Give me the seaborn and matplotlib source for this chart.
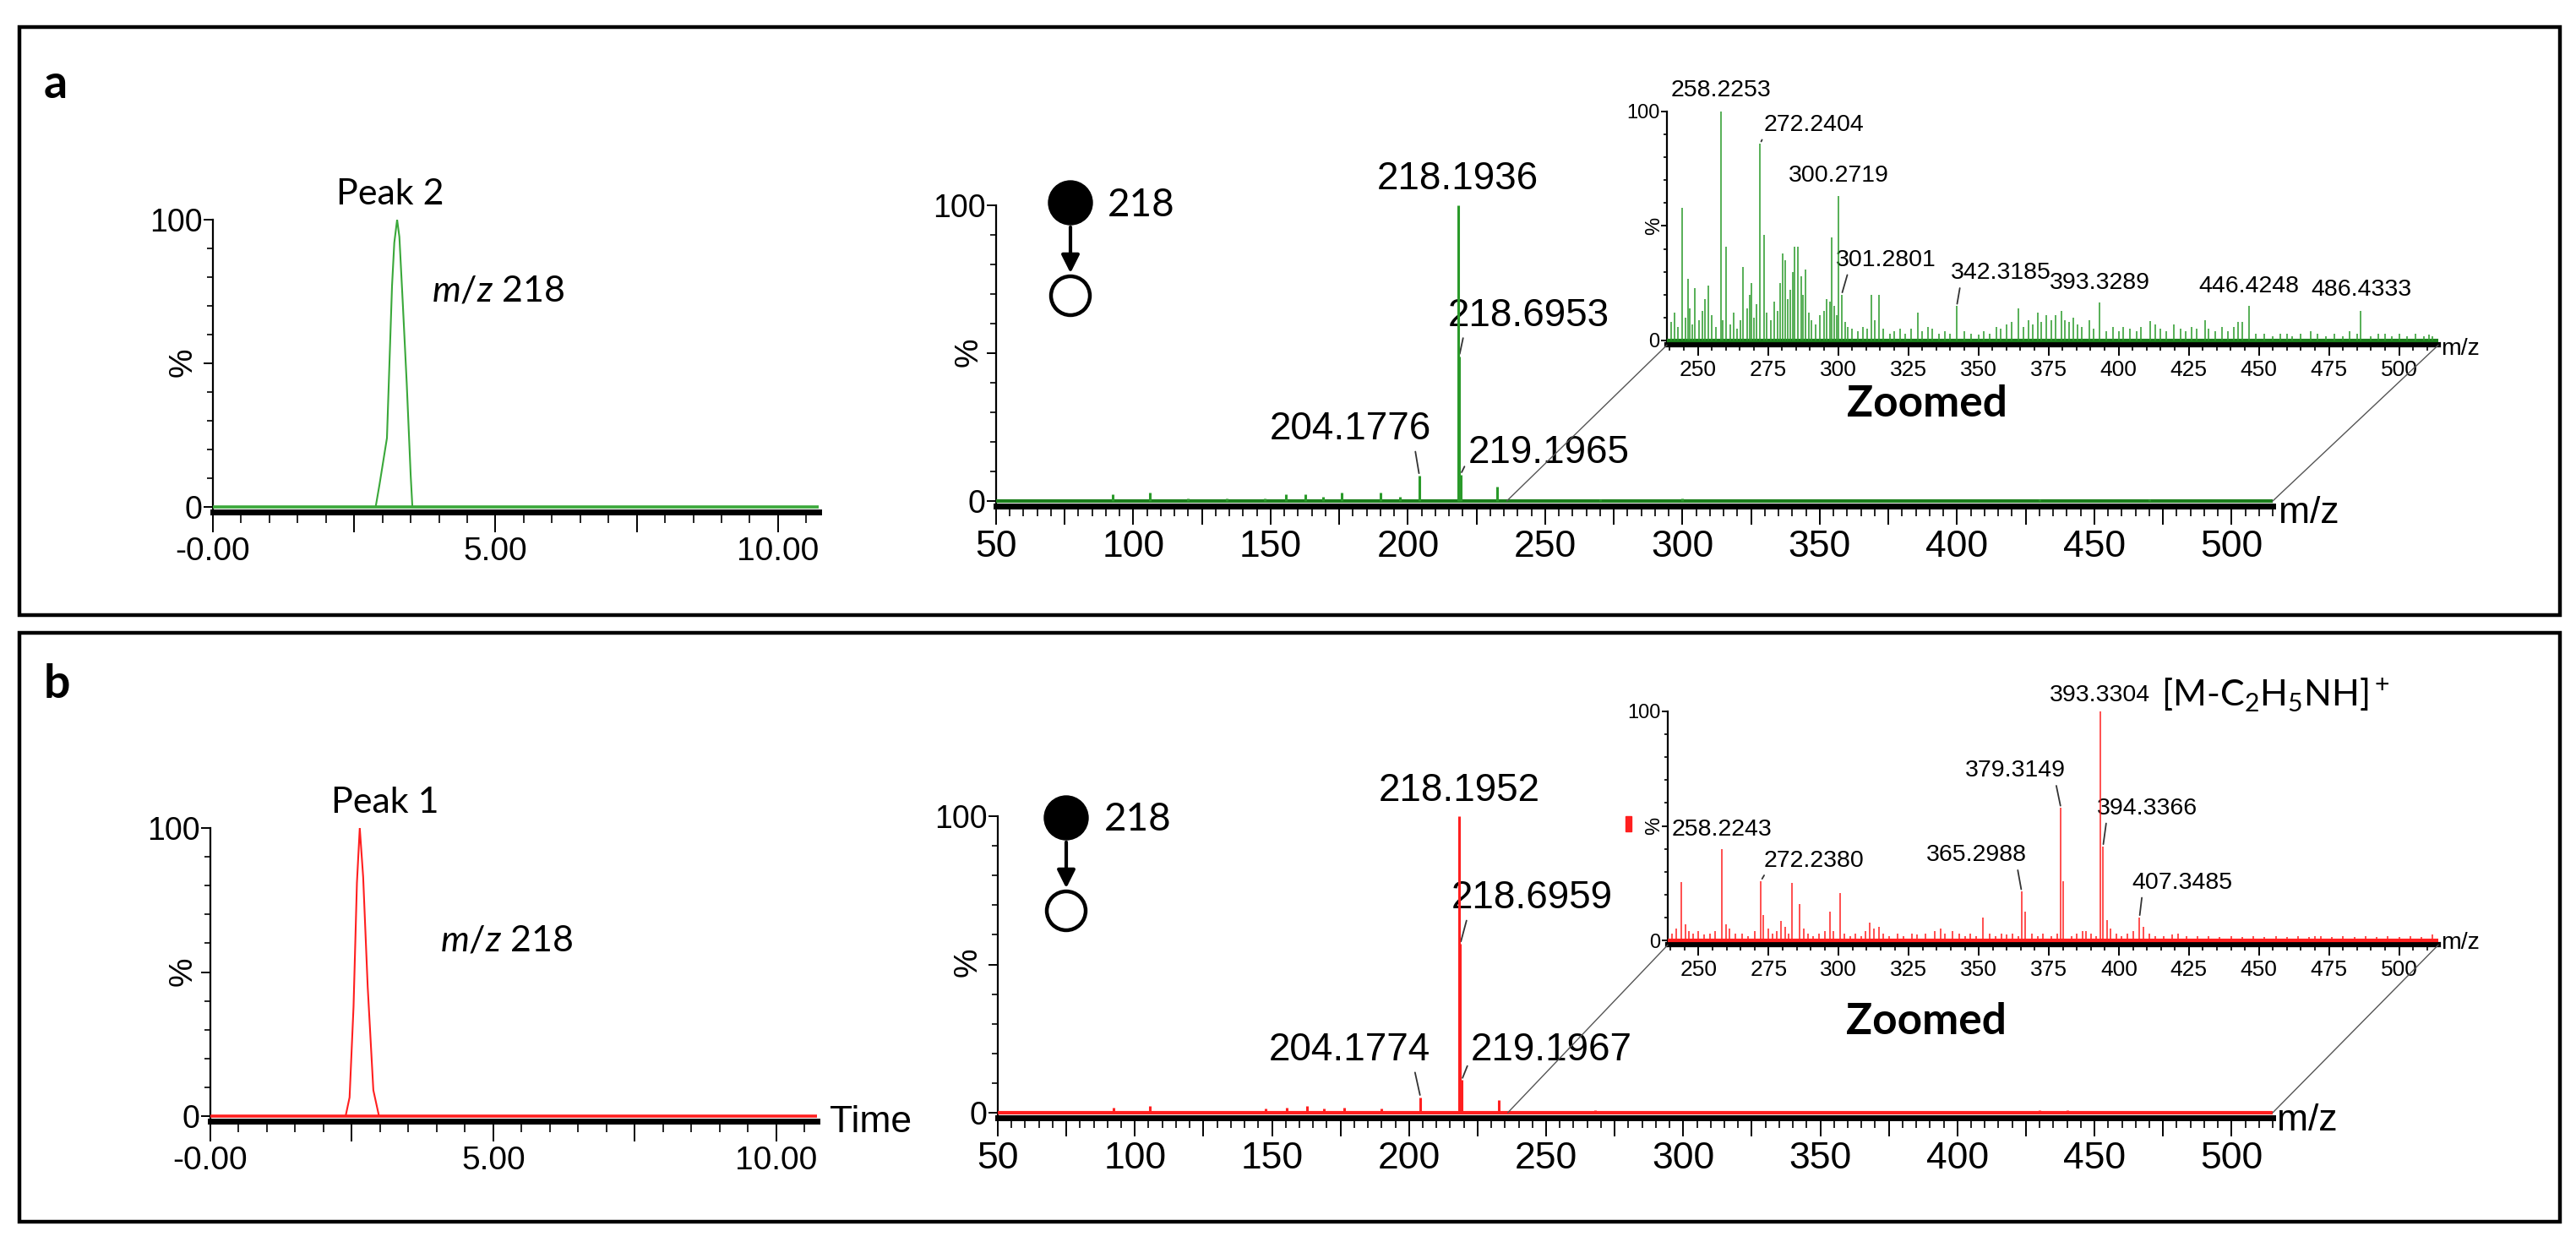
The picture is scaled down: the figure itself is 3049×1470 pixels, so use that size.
import numpy as np
import pandas as pd
import matplotlib
matplotlib.use("Agg")
import matplotlib.pyplot as plt
import seaborn as sns
from matplotlib.patches import Rectangle, Circle, ConnectionPatch, FancyArrowPatch
from matplotlib.ticker import FixedLocator, MultipleLocator

# ---------------- data ----------------
# extracted ion chromatograms (time in min, relative intensity %)
time_a = [0, 2.88, 2.95, 3.08, 3.17, 3.21, 3.26, 3.30, 3.36, 3.43, 3.50, 3.53, 10.72]
int_a = [0, 0, 8, 24, 77, 92, 100, 94, 71, 43, 11, 0, 0]
time_b = [0, 2.39, 2.46, 2.53, 2.59, 2.64, 2.70, 2.78, 2.88, 2.98, 10.72]
int_b = [0, 0, 6.5, 38, 81, 100, 83, 45, 9, 0, 0]

# full MS/MS spectra
ms_a_mz = [92.4, 106.0, 120.0, 134.0, 148.0, 155.6, 162.5, 169.0, 176.0, 190.0, 197.0,
           204.1776, 218.1936, 218.6953, 219.1965, 232.5, 270.0, 300.0, 430.0, 470.0]
ms_a_int = [2.4, 3.0, 1.0, 1.0, 1.0, 2.4, 2.4, 1.4, 3.0, 3.0, 1.4,
            8.6, 100, 49, 9, 5.0, 0.6, 0.8, 0.6, 0.6]
ms_b_mz = [92.2, 105.5, 147.7, 155.4, 162.7, 169.0, 176.4, 190.0, 204.1774,
           218.1952, 218.6959, 219.1967, 232.8, 268.0, 300.0, 430.0, 440.0, 470.0]
ms_b_int = [1.6, 2.4, 1.3, 1.6, 2.4, 1.3, 1.6, 1.3, 5.2,
            100, 57, 11, 4.4, 0.8, 0.6, 0.8, 0.8, 0.6]
ms_a_labels = [218.1936, 218.6953, 204.1776, 219.1965]
ms_b_labels = [218.1952, 218.6959, 204.1774, 219.1967]

# zoomed spectra (m/z 239-514)
ins_a_mz = [244.5, 246.4, 249.0, 253.8, 258.2253, 260.1, 266.0, 269.2, 272.2404, 273.5,
            280.2, 281.3, 284.5, 285.7, 288.3, 297.2, 297.6, 300.2719, 301.2801, 312.0,
            314.5, 328.4, 332.0, 342.3185, 364.2, 371.1, 374.3, 379.6, 383.8, 389.7,
            393.3289, 401.8, 411.3, 419.8, 430.8, 444.0, 446.4248, 457.8, 468.4, 482.5,
            486.4333, 492.7, 500.0, 510.7]
ins_a_int = [58, 27, 23, 24, 100, 41, 32, 25, 86, 46,
             38, 35, 41, 41, 31, 17, 45, 63, 20, 20,
             20, 12, 6, 15, 14, 12, 11, 13, 10, 9,
             16.5, 6, 8.5, 7, 9, 8, 15, 3, 4, 4,
             13, 3, 3, 2.5]
noise_a_mz = [240.5, 241.8, 243.0, 245.5, 247.0, 248.0, 250.5, 251.7, 252.6, 255.0,
              256.5, 259.0, 261.5, 262.8, 264.0, 265.2, 267.5, 268.5, 270.0, 271.0,
              274.5, 276.0, 277.2, 278.5, 279.4, 282.0, 283.0, 284.0, 286.8, 287.5,
              289.5, 290.5, 292.0, 293.5, 295.0, 296.0, 298.5, 299.5, 302.5, 303.5,
              305.0, 307.0, 309.0, 310.5, 313.0, 316.0, 318.5, 320.0, 322.0, 324.0,
              326.0, 330.0, 333.5, 336.0, 338.0, 340.0, 345.0, 347.5, 350.0, 352.0,
              354.0, 356.5, 358.0, 360.0, 362.0, 366.0, 368.0, 369.5, 372.5, 376.0,
              377.5, 381.0, 382.5, 385.5, 387.0, 391.0, 395.5, 398.0, 400.0, 404.0,
              406.5, 408.0, 413.0, 415.0, 417.0, 422.0, 424.0, 426.0, 428.0, 432.0,
              434.5, 437.0, 439.0, 441.0, 442.5, 449.0, 452.0, 455.0, 460.0, 462.0,
              465.0, 471.0, 474.0, 477.0, 480.0, 485.0, 490.0, 495.0, 497.5, 503.0,
              506.0, 509.0, 512.0]
noise_a_int = [8, 12, 6, 10, 14, 7, 9, 13, 18, 11,
               6, 9, 7, 12, 5, 9, 14, 20, 10, 16,
               12, 9, 17, 13, 25, 18, 22, 30, 28, 20,
               12, 9, 7, 11, 13, 18, 15, 11, 8, 6,
               5, 4, 6, 5, 9, 5, 3, 4, 5, 3,
               5, 4, 5, 3, 4, 3, 4, 3, 2.5, 4,
               3, 6, 5, 7, 8, 6, 9, 7, 8, 9,
               11, 9, 8, 7, 6, 5, 4, 6, 4, 5,
               4, 6, 7, 5, 4, 5, 4, 6, 5, 5,
               4, 6, 4, 6, 8, 3, 3, 2, 3, 2,
               3, 3, 2, 3, 2, 3, 2, 3, 2, 2,
               3, 2, 2]
ins_a_labels = [258.2253, 272.2404, 300.2719, 301.2801, 342.3185, 393.3289, 446.4248, 486.4333]

ins_b_mz = [243.9, 245.3, 258.2243, 259.7, 272.2380, 273.2, 279.5, 283.3, 286.0, 297.0,
            300.4, 311.1, 314.3, 334.4, 351.4, 365.2988, 366.6, 379.3149, 380.1, 388.2,
            393.3304, 394.3366, 395.7, 407.3485, 408.8, 421.0, 470.0, 512.0]
ins_b_int = [25.6, 7, 39.7, 7, 26, 11, 8.4, 25, 16, 12.7,
             20.7, 7.7, 6, 4, 10, 21.3, 12.7, 57.8, 26, 4,
             100, 41, 9, 10, 6, 3, 2, 2.5]
noise_b_mz = [240.5, 242.0, 246.5, 248.0, 250.0, 252.0, 254.0, 256.0, 261.0, 263.0,
              265.5, 267.5, 270.0, 275.0, 276.5, 278.0, 281.0, 282.0, 287.5, 289.0,
              291.0, 293.0, 295.0, 298.0, 302.0, 304.0, 306.0, 308.0, 309.5, 312.5,
              316.0, 318.0, 321.0, 323.0, 326.0, 328.0, 331.0, 336.5, 338.0, 340.5,
              343.0, 345.0, 347.0, 349.0, 354.0, 356.0, 358.0, 360.0, 362.0, 364.0,
              369.0, 371.0, 373.0, 376.0, 378.0, 383.0, 385.0, 387.0, 390.0, 392.0,
              397.0, 399.0, 401.0, 403.0, 405.0, 411.0, 413.0, 416.0, 419.0, 424.0,
              428.0, 432.0, 436.0, 440.0, 444.0, 448.0, 452.0, 456.0, 460.0, 464.0,
              468.0, 472.0, 476.0, 480.0, 484.0, 488.0, 492.0, 496.0, 500.0, 504.0,
              508.0]
noise_b_int = [3, 5, 4, 3, 4, 2.5, 3, 4, 5, 3,
               3, 2, 4, 5, 3, 4, 6, 3, 5, 3,
               2, 3, 4, 4, 3, 2, 3, 2, 4, 5,
               3, 2, 3, 2, 3, 2.5, 3, 5, 3, 4,
               3, 2, 3, 2, 3, 2, 3, 2.5, 3, 2,
               3, 2, 3, 2, 3, 2, 3, 4, 3, 2,
               5, 3, 2, 3, 4, 3, 2, 2, 2.5, 2,
               2, 2, 1.5, 2, 1.5, 2, 1.5, 2, 1.5, 2,
               1.5, 2, 1.5, 2, 1.5, 2, 1.5, 2, 1.5, 2,
               1.5]
ins_b_labels = [393.3304, 379.3149, 394.3366, 258.2243, 272.2380, 365.2988, 407.3485]

# ---------------- layout (pixels of the 3049x1470 picture) ----------------
W, H = 3049, 1470
GREEN_LINE = '#3aa83a'
GREEN = '#2a9a2a'
GREEN_BASE = '#1b7d1b'
RED = '#ff1f1f'
NARROW = ['Liberation Sans', 'DejaVu Sans']
HUMAN = ['Lato', 'DejaVu Sans']

sns.set_theme(style='ticks')
plt.rcParams['font.family'] = NARROW
plt.rcParams['mathtext.fontset'] = 'custom'
plt.rcParams['mathtext.rm'] = 'Lato'
plt.rcParams['mathtext.it'] = 'Lato:italic'
plt.rcParams['text.color'] = 'black'
plt.rcParams['xtick.color'] = 'black'
plt.rcParams['ytick.color'] = 'black'


def rect(x0, x1, y0px, y100px, ymin):
    bottom = y0px + (-ymin) * (y0px - y100px) / 100.0
    return [x0 / W, 1 - bottom / H, (x1 - x0) / W, (bottom - y100px) / H]


def style_axes(ax, xlim, ymin, xmajor, xlabels, xminor, xsize, ysize,
               xlen, ylen, bottom_lw):
    ax.set_xlim(xlim)
    ax.set_ylim(ymin, 100)
    ax.set_facecolor('none')
    for s in ['top', 'right']:
        ax.spines[s].set_visible(False)
    ax.spines['left'].set_linewidth(1.6)
    ax.spines['left'].set_color('black')
    ax.spines['bottom'].set_linewidth(bottom_lw)
    ax.spines['bottom'].set_color('black')
    ax.xaxis.set_major_locator(FixedLocator(xmajor))
    ax.set_xticklabels(xlabels)
    ax.xaxis.set_minor_locator(MultipleLocator(xminor))
    ax.yaxis.set_major_locator(FixedLocator([0, 50, 100]))
    ax.set_yticklabels(['0', '', '100'])
    ax.yaxis.set_minor_locator(MultipleLocator(10))
    ax.tick_params(axis='x', which='major', length=xlen, width=1.4,
                   labelsize=xsize, pad=4, direction='out')
    ax.tick_params(axis='x', which='minor', length=xlen * 0.55, width=1.2, direction='out')
    ax.tick_params(axis='y', which='major', length=ylen, width=1.4,
                   labelsize=ysize, pad=1, direction='out')
    ax.tick_params(axis='y', which='minor', length=ylen * 0.6, width=1.2, direction='out')
    ax.set_xlabel('')
    ax.set_ylabel('')
    ax.grid(False)


def peak_label(ax, mz, h, text, dx, dy, size, lead=None, ha='center'):
    kw = dict(xy=(mz, h), xytext=(dx, dy), textcoords='offset pixels',
              ha=ha, va='center', fontsize=size, family=NARROW)
    if lead is not None:
        kw['arrowprops'] = dict(arrowstyle='-', color='#333333', lw=1.3,
                                relpos=lead, shrinkA=1, shrinkB=2)
    ax.annotate(text, **kw)


fig = plt.figure(figsize=(W / 100, H / 100), dpi=100)

# overlay in pixel coordinates for frames and free text
ov = fig.add_axes([0, 0, 1, 1])
ov.set_xlim(0, W)
ov.set_ylim(H, 0)
ov.axis('off')
for (x0, y0, x1, y1) in [(23, 32, 3030, 728), (23, 749, 3030, 1446)]:
    ov.add_patch(Rectangle((x0, y0), x1 - x0, y1 - y0, fill=False, lw=3.2, ec='black'))

ov.text(66, 100, 'a', fontsize=40, fontweight='bold', family=HUMAN, ha='center', va='center')
ov.text(67, 810, 'b', fontsize=40, fontweight='bold', family=HUMAN, ha='center', va='center')

# ---------------- chromatograms ----------------
time_ticks = [0, 2.5, 5, 7.5, 10]
time_labels = ['-0.00', '', '5.00', '', '10.00']
for (t, y, color, pos, peak_txt, peak_xy, mz_xy) in [
        (time_a, int_a, GREEN_LINE, (252, 969, 600, 260), 'Peak 2', (462, 230), (590, 344)),
        (time_b, int_b, RED, (249, 967, 1321, 980), 'Peak 1', (456, 950), (600, 1113))]:
    ax = fig.add_axes(rect(*pos, -1.8))
    ax.axhline(0, color=color, lw=2.6, zorder=3)
    sns.lineplot(x=t, y=y, ax=ax, color=color, lw=1.5, estimator=None, zorder=4)
    style_axes(ax, (0, 10.72), -1.8, time_ticks, time_labels, 0.5, 28, 27, 17, 8, 5)
    ov.text(*peak_xy, peak_txt, fontsize=31, family=HUMAN, ha='center', va='center')
    ov.text(*mz_xy, r'$m/z$ 218', fontsize=31, family=HUMAN, ha='center', va='center')
    ov.text(217, (pos[2] + pos[3]) / 2 - 1, '%', fontsize=28, rotation=90, ha='center', va='center')

ov.text(1031, 1328, 'Time', fontsize=32, ha='center', va='center')

# ---------------- MS/MS spectra ----------------
ms_ticks = list(range(50, 501, 25))
ms_tick_labels = [str(v) if v % 50 == 0 else '' for v in ms_ticks]
ins_ticks = list(range(250, 501, 25))
ins_tick_labels = [str(v) for v in ins_ticks]

panels = [
    dict(mz=ms_a_mz, it=ms_a_int, labels=ms_a_labels, color=GREEN, base=GREEN_BASE,
         pos=(1179, 2690, 593, 243),
         ins_mz=ins_a_mz + noise_a_mz, ins_it=ins_a_int + noise_a_int,
         ins_labels=ins_a_labels, ins_pos=(1973, 2886, 403, 132),
         circ=(1267, 240), txt218=(1351, 243), zoomed=(2281, 478), mzlab=(2733, 607),
         ins_mzlab=(2912, 413), pct=(1147, 417), ins_pct=(1958, 267),
         offs={218.1936: (0, 31, None), 218.6953: (82, 48, (0.1, 0)),
               204.1776: (-82, 55, (0.9, 0)), 219.1965: (104, 26, (0, 0.3))},
         ins_offs={258.2253: (0, 25, None), 272.2404: (64, 22, (0.02, 0.2)),
                   300.2719: (0, 24, None), 301.2801: (52, 41, (0.13, 0)),
                   342.3185: (52, 39, (0.1, 0)), 393.3289: (0, 23, None),
                   446.4248: (0, 23, None), 486.4333: (0, 25, None)}),
    dict(mz=ms_b_mz, it=ms_b_int, labels=ms_b_labels, color=RED, base=RED,
         pos=(1181, 2690, 1317, 966),
         ins_mz=ins_b_mz + noise_b_mz, ins_it=ins_b_int + noise_b_int,
         ins_labels=ins_b_labels, ins_pos=(1974, 2886, 1113, 842),
         circ=(1262, 968), txt218=(1347, 970), zoomed=(2280, 1210), mzlab=(2731, 1327),
         ins_mzlab=(2912, 1116), pct=(1146, 1139), ins_pct=(1958, 977),
         offs={218.1952: (0, 30, None), 218.6959: (85, 54, (0.1, 0)),
               204.1774: (-84, 56, (0.9, 0)), 219.1967: (106, 35, (0, 0.3))},
         ins_offs={393.3304: (0, 19, None), 379.3149: (-54, 44, (0.9, 0)),
                   394.3366: (52, 45, (0.1, 0)), 258.2243: (0, 23, None),
                   272.2380: (63, 24, (0.05, 0.2)), 365.2988: (-53, 43, (0.9, 0)),
                   407.3485: (51, 41, (0.1, 0))}),
]

for p in panels:
    ax = fig.add_axes(rect(*p['pos'], -1.8))
    ax.axhline(0, color=p['base'], lw=3.0, zorder=3)
    ax.vlines(p['mz'], 0, p['it'], color=p['color'], lw=2.2, zorder=4)
    style_axes(ax, (50, 515), -1.8, ms_ticks, ms_tick_labels, 5, 32, 27, 16, 8, 5)
    heights = dict(zip(p['mz'], p['it']))
    for mz in p['labels']:
        dx, dy, lead = p['offs'][mz]
        peak_label(ax, mz, heights[mz], f'{mz:.4f}', dx, dy, 33, lead)

    ins = fig.add_axes(rect(*p['ins_pos'], -2))
    ins.axhline(0, color=p['base'], lw=3.0, zorder=3)
    ins.vlines(p['ins_mz'], 0, p['ins_it'], color=p['color'], lw=1.1, zorder=4)
    style_axes(ins, (239, 514), -2, ins_ticks, ins_tick_labels, 5, 19, 17, 9, 5, 4.5)
    ins_heights = dict(zip(p['ins_mz'], p['ins_it']))
    for mz in p['ins_labels']:
        dx, dy, lead = p['ins_offs'][mz]
        peak_label(ins, mz, ins_heights[mz], f'{mz:.4f}', dx, dy, 20.5, lead)

    # zoom guide lines from the full spectrum to the inset
    for xa, fb in [(236, (0, 0)), (515, (1, 0))]:
        con = ConnectionPatch(xyA=(xa, 0), coordsA=ax.transData, xyB=fb,
                              coordsB=ins.transAxes, color='#555555', lw=1.0)
        fig.add_artist(con)

    # precursor -> product symbol
    cx, cy = p['circ']
    ov.add_patch(Circle((cx, cy), 26, color='black'))
    ov.add_patch(Circle((cx, cy + 110), 23, fill=False, ec='black', lw=3.2))
    ov.add_patch(FancyArrowPatch((cx, cy + 26), (cx, cy + 86), arrowstyle='-|>',
                                 mutation_scale=32, lw=3, color='black'))
    ov.text(*p['txt218'], '218', fontsize=33, family=HUMAN, ha='center', va='center')
    ov.text(*p['zoomed'], 'Zoomed', fontsize=37, fontweight='bold', family=HUMAN,
            ha='center', va='center')
    ov.text(*p['mzlab'], 'm/z', fontsize=32, ha='center', va='center')
    ov.text(*p['ins_mzlab'], 'm/z', fontsize=20.5, ha='center', va='center')
    ov.text(*p['pct'], '%', fontsize=28, rotation=90, ha='center', va='center')
    ov.text(*p['ins_pct'], '%', fontsize=17, rotation=90, ha='center', va='center')

# ion assignment of the base peak in the zoomed spectrum of b
ov.text(2558, 823, r'[M-C$_2$H$_5$NH]$^+$', fontsize=31, family=HUMAN, ha='left', va='center')
# small red mark left of the inset axis in b
ov.add_patch(Rectangle((1924, 966), 7, 18, color=RED))

fig.savefig('out.png', dpi=100)
